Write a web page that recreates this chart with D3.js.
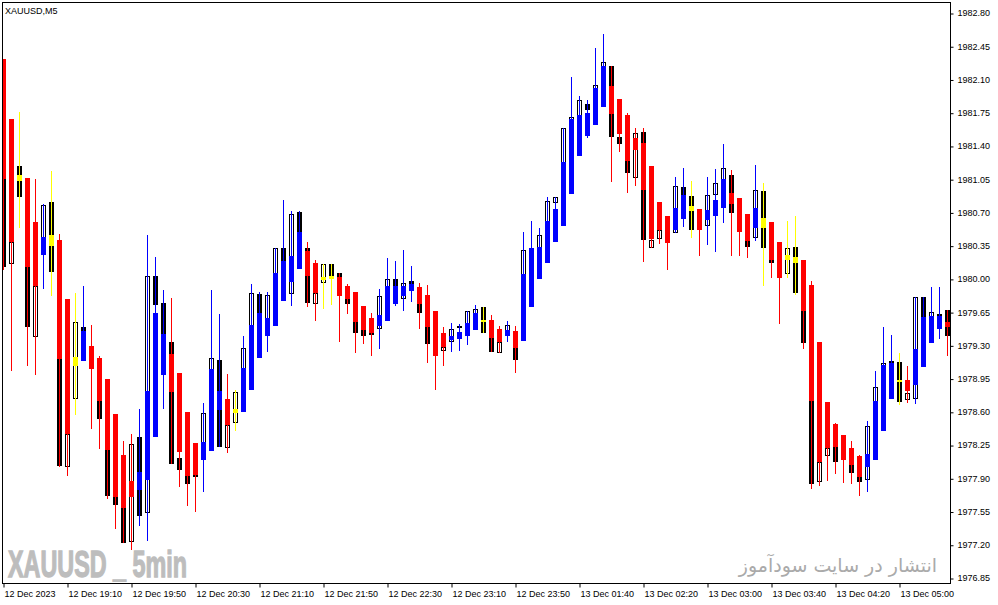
<!DOCTYPE html>
<html><head><meta charset="utf-8">
<script src="https://cdn.jsdelivr.net/npm/d3@7"></script>
<style>html,body{margin:0;padding:0;background:#fff;}svg{display:block}</style>
</head><body>
<svg id="chart" width="998" height="605"></svg>
<script>
// ---- data (XAUUSD M5) ----
const open  = [1981.05,1980.16,1981.19,1980.12,1979.39,1980.25,1980.81,1979.16,1978.02,1978.74,1979.49,1979.25,1978.71,1978.20,1977.70,1977.59,1977.23,1978.33,1977.53,1980.03,1979.75,1979.34,1978.11,1977.92,1977.91,1978.09,1979.02,1979.15,1978.22,1978.48,1979.02,1979.46,1979.84,1979.55,1980.02,1980.32,1979.84,1980.70,1980.33,1979.74,1979.96,1980.16,1980.06,1979.79,1979.55,1979.46,1979.41,1979.47,1979.88,1980.00,1979.79,1979.98,1979.74,1979.49,1979.57,1979.24,1979.34,1979.48,1979.40,1979.61,1979.70,1979.38,1979.22,1979.44,1979.27,1980.01,1979.78,1980.29,1980.57,1980.80,1981.20,1981.65,1981.69,1981.84,1981.98,1982.21,1982.24,1981.49,1981.24,1981.06,1981.55,1980.33,1980.42,1980.62,1980.48,1980.97,1980.87,1980.70,1980.56,1980.88,1981.02,1981.09,1980.81,1980.40,1980.43,1980.93,1980.20,1980.36,1980.05,1980.34,1979.66,1978.71,1977.86,1978.13,1978.23,1978.32,1978.04,1977.91,1977.88,1978.67,1979.05,1979.14,1979.12,1978.72,1978.73,1979.81,1979.58,1979.63,1979.67];
const high  = [1982.32,1981.68,1981.76,1981.06,1981.05,1980.79,1981.14,1980.47,1979.79,1979.85,1979.92,1979.51,1979.19,1978.95,1978.58,1978.29,1978.37,1978.63,1980.46,1980.23,1979.88,1979.80,1979.01,1978.60,1978.27,1978.69,1979.88,1979.63,1979.00,1978.83,1979.40,1979.95,1979.86,1979.86,1980.33,1980.83,1980.71,1980.71,1980.39,1980.20,1980.16,1980.16,1980.06,1979.95,1979.86,1979.71,1979.64,1979.89,1980.22,1980.19,1980.30,1980.14,1979.96,1979.94,1979.66,1979.49,1979.54,1979.53,1979.66,1979.73,1979.70,1979.62,1979.50,1979.56,1979.50,1980.49,1980.61,1980.54,1980.86,1980.86,1981.59,1982.13,1981.93,1981.88,1982.43,1982.58,1982.24,1981.89,1981.75,1981.59,1981.59,1981.19,1980.81,1980.66,1981.07,1981.17,1981.03,1980.74,1981.07,1981.16,1981.42,1981.15,1980.85,1980.68,1981.20,1981.01,1980.60,1980.39,1980.61,1980.66,1980.20,1979.98,1979.34,1978.70,1978.48,1978.36,1978.29,1978.15,1978.50,1979.03,1979.49,1979.41,1979.22,1979.08,1979.81,1979.81,1979.91,1979.91,1979.67];
const low   = [1980.09,1979.03,1980.54,1979.08,1978.99,1979.89,1979.82,1978.02,1977.92,1978.57,1979.13,1978.42,1978.21,1977.68,1977.37,1977.22,1977.15,1977.40,1977.24,1978.34,1978.63,1978.05,1977.81,1977.61,1977.54,1977.76,1978.19,1978.23,1978.17,1978.40,1978.60,1978.83,1979.17,1979.23,1979.50,1979.77,1979.71,1980.10,1979.70,1979.56,1979.68,1979.72,1979.34,1979.63,1979.22,1979.31,1979.19,1979.26,1979.56,1979.71,1979.66,1979.76,1979.47,1979.11,1978.83,1979.08,1979.23,1979.24,1979.30,1979.46,1979.43,1979.23,1979.22,1979.34,1979.01,1979.35,1979.70,1980.00,1980.17,1980.39,1980.56,1980.89,1981.29,1981.48,1981.62,1981.81,1981.02,1981.34,1980.90,1980.98,1980.18,1980.32,1980.37,1980.09,1980.48,1980.55,1980.43,1980.24,1980.36,1980.28,1980.59,1980.24,1980.24,1980.22,1980.40,1979.92,1980.01,1979.53,1980.01,1979.83,1979.26,1977.79,1977.82,1977.87,1977.95,1977.85,1977.84,1977.71,1977.76,1978.09,1978.40,1978.74,1978.67,1978.69,1978.68,1979.07,1979.33,1979.37,1979.19];
const close = [1980.13,1980.39,1980.86,1979.49,1979.93,1980.78,1980.07,1978.03,1978.37,1979.55,1979.36,1979.09,1978.52,1977.71,1977.62,1977.22,1978.26,1977.50,1980.03,1979.73,1979.42,1978.05,1977.99,1977.84,1977.93,1978.59,1979.17,1978.23,1978.46,1978.81,1979.27,1979.85,1979.59,1979.83,1980.33,1980.15,1980.68,1980.44,1979.75,1979.85,1980.16,1980.01,1979.94,1979.74,1979.43,1979.40,1979.43,1979.82,1980.00,1979.89,1979.96,1979.93,1979.64,1979.31,1979.25,1979.28,1979.47,1979.50,1979.66,1979.68,1979.43,1979.23,1979.34,1979.51,1979.15,1980.30,1980.25,1980.46,1980.82,1980.86,1981.59,1981.70,1981.88,1981.78,1982.04,1982.28,1981.49,1981.42,1981.12,1981.54,1980.41,1980.41,1980.51,1980.41,1980.98,1980.85,1980.52,1980.54,1980.88,1981.01,1981.17,1980.69,1980.52,1980.34,1980.94,1980.33,1980.17,1980.04,1980.32,1979.85,1979.32,1977.84,1978.07,1978.22,1978.07,1978.11,1977.96,1977.86,1978.45,1978.86,1979.11,1979.08,1978.70,1978.80,1979.81,1979.57,1979.65,1979.57,1979.40];
// overlay (trend / Heiken-Ashi style) bodies
const haOpen  = [1982.32,1981.68,1981.09,1981.06,1980.60,1980.25,1980.46,1980.41,1979.79,1979.18,1979.13,1979.29,1979.17,1978.95,1978.58,1978.15,1977.87,1977.78,1977.88,1978.34,1978.99,1979.21,1979.01,1978.60,1978.27,1978.09,1978.19,1978.62,1978.73,1978.63,1978.60,1978.83,1979.17,1979.40,1979.50,1979.77,1979.97,1980.10,1980.29,1980.17,1980.02,1980.03,1980.02,1979.93,1979.86,1979.71,1979.59,1979.50,1979.56,1979.74,1979.82,1979.87,1979.91,1979.83,1979.66,1979.43,1979.36,1979.37,1979.40,1979.46,1979.57,1979.57,1979.47,1979.40,1979.45,1979.35,1979.70,1980.00,1980.17,1980.39,1980.56,1980.89,1981.29,1981.50,1981.62,1981.81,1982.03,1981.89,1981.73,1981.48,1981.43,1981.19,1980.81,1980.66,1980.52,1980.63,1980.77,1980.74,1980.62,1980.66,1980.75,1980.90,1980.85,1980.68,1980.54,1980.64,1980.60,1980.39,1980.25,1980.23,1980.20,1979.94,1979.34,1978.70,1978.47,1978.36,1978.22,1978.14,1978.02,1978.09,1978.40,1978.74,1978.94,1978.93,1978.88,1979.07,1979.33,1979.47,1979.55];
const haClose = [1981.05,1980.39,1981.03,1980.12,1979.93,1980.44,1980.35,1979.16,1978.37,1979.08,1979.45,1979.05,1978.71,1978.20,1977.70,1977.59,1977.70,1977.97,1978.82,1979.64,1979.42,1978.81,1978.18,1977.92,1977.93,1978.28,1979.05,1978.82,1978.46,1978.59,1979.06,1979.51,1979.64,1979.59,1980.06,1980.19,1980.24,1980.49,1980.03,1979.85,1979.99,1980.00,1979.82,1979.79,1979.55,1979.46,1979.43,1979.62,1979.93,1979.93,1979.93,1979.95,1979.74,1979.49,1979.19,1979.28,1979.40,1979.44,1979.54,1979.64,1979.55,1979.38,1979.34,1979.46,1979.27,1980.05,1980.32,1980.34,1980.61,1980.74,1981.23,1981.68,1981.73,1981.75,1982.01,1982.24,1981.74,1981.53,1981.24,1981.36,1980.94,1980.42,1980.51,1980.38,1980.75,1980.88,1980.71,1980.52,1980.73,1980.83,1981.05,1980.79,1980.49,1980.40,1980.75,1980.54,1980.20,1980.01,1980.20,1980.17,1979.66,1978.71,1978.07,1978.22,1978.23,1978.09,1978.04,1977.91,1978.16,1978.71,1979.09,1979.11,1978.91,1978.82,1979.26,1979.60,1979.61,1979.61,1979.49];
// r = bearish (red), b = bullish (blue), y = neutral (yellow)
const haState = ("rryrrbyrry"+"brrrrrrbbb"+"brrrrbbbry"+"bbbbbbbbrr"+"yyrrrrrbbb"+
                 "bbrrrrbbbb"+"yrrbrbbbbb"+"bbbbbbrrrr"+"rrrrbbyrbb"+"brrrbyrryy"+
                 "rrrrrrrrbb"+"bbyrbbbbr").split("");
const priceTicks = [1982.80,1982.45,1982.10,1981.75,1981.40,1981.05,1980.70,1980.35,1980.00,1979.65,1979.30,1978.95,1978.60,1978.25,1977.90,1977.55,1977.20,1976.85];
const timeTickIndex = [0,8,16,24,32,40,48,56,64,72,80,88,96,104,112];
const timeTickLabels = ["12 Dec 2023","12 Dec 19:10","12 Dec 19:50","12 Dec 20:30","12 Dec 21:10","12 Dec 21:50","12 Dec 22:30","12 Dec 23:10","12 Dec 23:50","13 Dec 01:40","13 Dec 02:20","13 Dec 03:00","13 Dec 03:40","13 Dec 04:20","13 Dec 05:00"];
const stateColor = {r:"#ff0000", b:"#0000ff", y:"#ffff00"};

// ---- layout ----
const svg = d3.select("#chart");
const L = 2.5, T = 2.5, R = 950.5, B = 583.5;
const x = d3.scaleLinear().domain([0, 118]).range([3, 947]);
const y = d3.scaleLinear().domain([1976.85, 1982.80]).range([578, 13]);
const n = open.length;
const idx = d3.range(n);

svg.append("rect").attr("width",998).attr("height",605).attr("fill","#fff");
svg.append("defs").append("clipPath").attr("id","plot")
  .append("rect").attr("x",3).attr("y",3).attr("width",R-3).attr("height",B-3);

// watermarks
svg.append("text").attr("x",8).attr("y",577)
  .attr("font-family","'Liberation Sans Narrow','Liberation Sans',sans-serif")
  .attr("font-weight","bold").attr("font-size",36).attr("fill","#bdbdbd")
  .attr("stroke","#bdbdbd").attr("stroke-width",1.3)
  .attr("textLength",179).attr("lengthAdjust","spacingAndGlyphs")
  .text("XAUUSD _ 5min");
svg.append("text").attr("x",937).attr("y",572).attr("text-anchor","end")
  .attr("font-family","'DejaVu Sans',sans-serif").attr("font-size",19).attr("fill","#aaaaaa")
  .text("انتشار در سایت سودآموز");

const g = svg.append("g").attr("clip-path","url(#plot)");
const cx = i => Math.round(x(i));
const py = v => Math.round(y(v));

// real candles (under the overlay)
g.selectAll("rect.bear").data(idx.filter(i => close[i] < open[i])).join("rect")
  .attr("class","bear")
  .attr("x", i => cx(i)-2).attr("width",5)
  .attr("y", i => py(open[i]))
  .attr("height", i => Math.max(1, py(close[i]) - py(open[i])))
  .attr("fill","#000");
g.selectAll("rect.bull").data(idx.filter(i => close[i] >= open[i])).join("rect")
  .attr("class","bull")
  .attr("x", i => cx(i)-1.5).attr("width",4)
  .attr("y", i => py(close[i]) + 0.5)
  .attr("height", i => Math.max(0, py(open[i]) - py(close[i]) - 1))
  .attr("fill","#fff").attr("stroke","#000").attr("stroke-width",1);

// overlay wicks
g.selectAll("line.wick").data(idx).join("line")
  .attr("class","wick")
  .attr("x1", i => cx(i)+0.5).attr("x2", i => cx(i)+0.5)
  .attr("y1", i => py(high[i])).attr("y2", i => py(low[i]))
  .attr("stroke", i => stateColor[haState[i]]).attr("stroke-width",1);

// overlay bodies
g.selectAll("rect.ha").data(idx).join("rect")
  .attr("class","ha")
  .attr("x", i => cx(i)-2).attr("width",5)
  .attr("y", i => Math.min(py(haOpen[i]), py(haClose[i])))
  .attr("height", i => Math.max(2, Math.abs(py(haOpen[i]) - py(haClose[i]))))
  .attr("fill", i => stateColor[haState[i]]);

// frame
svg.append("rect").attr("x",L).attr("y",T).attr("width",R-L).attr("height",B-T)
  .attr("fill","none").attr("stroke","#000").attr("stroke-width",1);

// symbol label
svg.append("text").attr("x",5).attr("y",14)
  .attr("font-family","'Liberation Sans',Arial,sans-serif").attr("font-size",9).attr("fill","#000")
  .text("XAUUSD,M5");

// price axis
const yAxis = d3.axisRight(y).tickValues(priceTicks).tickSize(3).tickPadding(4)
  .tickFormat(d3.format(".2f"));
const ya = svg.append("g").attr("transform",`translate(${R},0)`).call(yAxis);
ya.select(".domain").remove();
ya.selectAll(".tick line").attr("stroke","#000").attr("transform","translate(0,0.5)");
ya.selectAll(".tick text").attr("font-family","'Liberation Sans',Arial,sans-serif")
  .attr("font-size",9).attr("fill","#000");

// time axis
const xAxis = d3.axisBottom(x).tickValues(timeTickIndex).tickSize(4)
  .tickFormat((d,k) => timeTickLabels[k]);
const xa = svg.append("g").attr("transform",`translate(0,${B})`).call(xAxis);
xa.select(".domain").remove();
xa.selectAll(".tick line").attr("stroke","#000").attr("transform","translate(0.5,0)");
xa.selectAll(".tick text").attr("text-anchor","start").attr("x",1).attr("y",7.5)
  .attr("font-family","'Liberation Sans',Arial,sans-serif").attr("font-size",9).attr("fill","#000");
</script>
</body></html>
